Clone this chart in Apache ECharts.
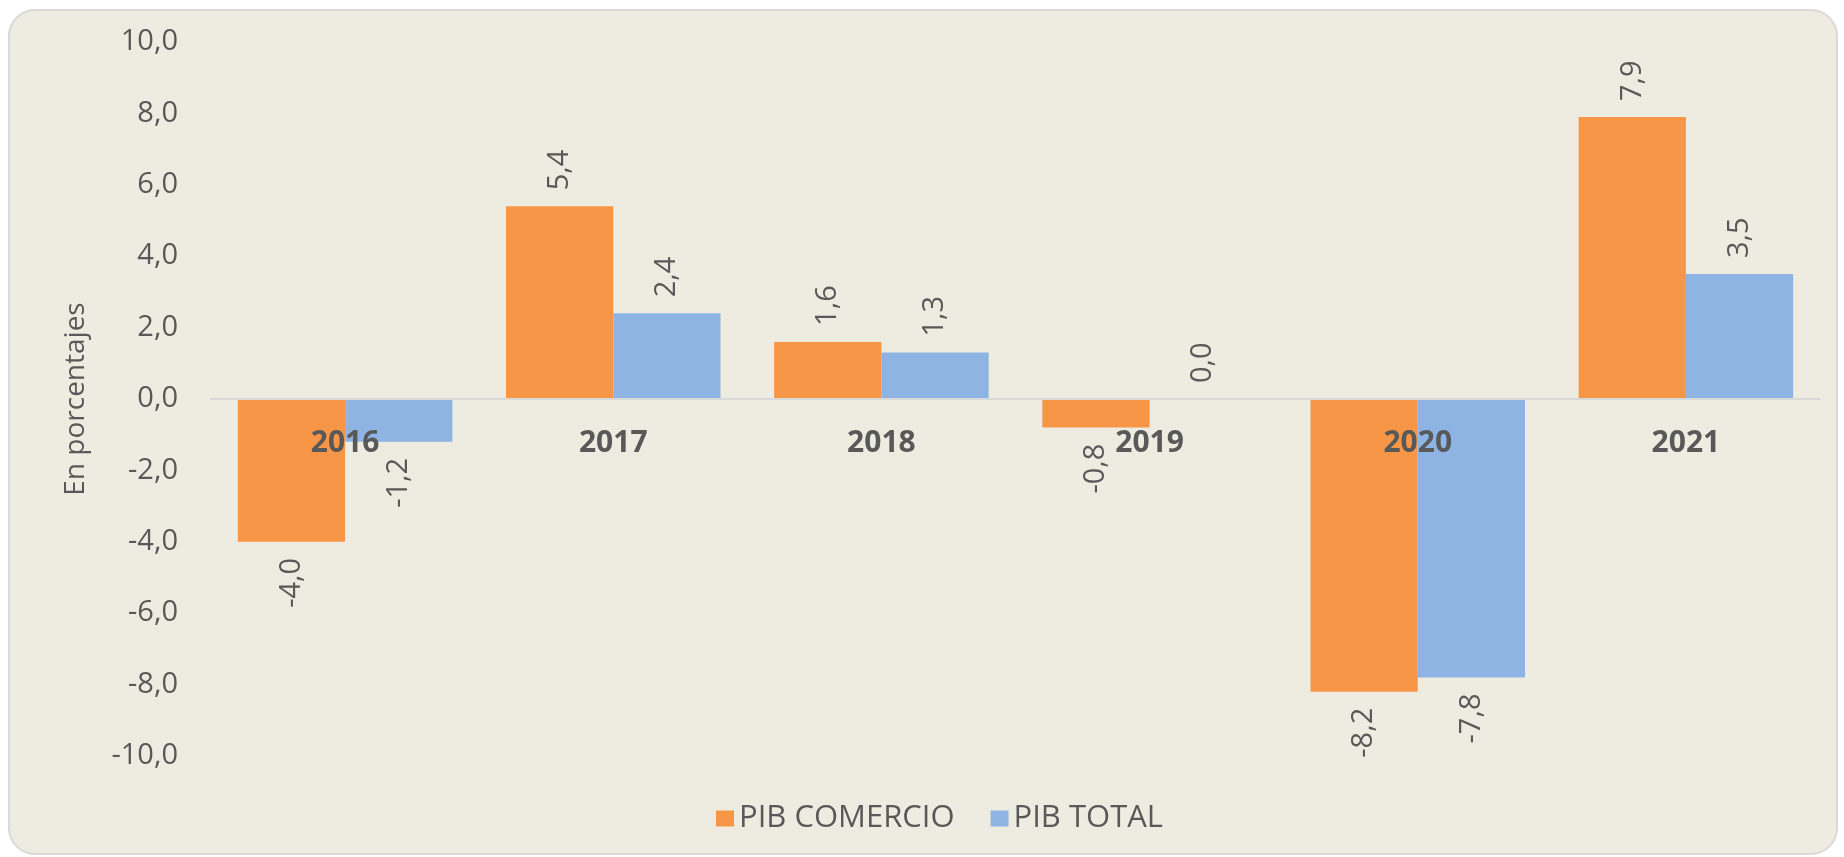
<!DOCTYPE html>
<html>
<head>
    <meta charset="UTF-8">
    <script type="text/javascript" src="https://cdn.jsdelivr.net/npm/echarts@6/dist/echarts.min.js"></script>
    <style>
        html, body { margin: 0; padding: 0; background: #ffffff; }
    </style>
</head>
<body>
    <div style="height: 857px;width: 1844px" id="myDiv"></div>
    <script type="text/javascript">
        var years = ['2016', '2017', '2018', '2019', '2020', '2021'];
        var pibComercio = [-4.0, 5.4, 1.6, -0.8, -8.2, 7.9];
        var pibTotal = [-1.2, 2.4, 1.3, 0.0, -7.8, 3.5];
        var yTicks = { min: -10, max: 10, interval: 2 };

        function fmt(v) {
            return v.toFixed(1).replace('.', ',');
        }

        // label goes above positive bars, below negative ones
        function withLabels(arr) {
            var out = [];
            for (var i = 0; i < arr.length; i++) {
                var up = arr[i] >= 0;
                out.push({
                    value: arr[i],
                    label: {
                        position: up ? 'top' : 'bottom',
                        align: up ? 'left' : 'right'
                    }
                });
            }
            return out;
        }

        var labelStyle = {
            show: true,
            rotate: 90,
            verticalAlign: 'middle',
            distance: 16,
            fontFamily: 'Open Sans',
            fontSize: 29,
            color: '#595959',
            formatter: function (p) { return fmt(p.value); }
        };

        var gridTop = 42, gridBottom = 101, chartH = 857;
        // the category axis sits on the zero line (middle of the symmetric y range)
        var zeroOffset = -(chartH - gridTop - gridBottom) * (0 - yTicks.min) / (yTicks.max - yTicks.min);

        var chart = echarts.init(document.getElementById('myDiv'));
        var option = {
            backgroundColor: '#ffffff',
            textStyle: { fontFamily: 'Open Sans', color: '#595959' },
            graphic: [{
                type: 'rect',
                left: 8,
                top: 9,
                z: -10,
                shape: { width: 1828, height: 844, r: 26 },
                style: { fill: '#EEECE1', stroke: '#D9D9D9', lineWidth: 2 }
            }],
            grid: {
                left: 211,
                right: 24,
                top: gridTop,
                bottom: gridBottom,
                outerBoundsMode: 'none'
            },
            legend: {
                left: 711,
                top: 798,
                itemWidth: 18,
                itemHeight: 16,
                itemGap: 36,
                icon: 'rect',
                textStyle: { fontSize: 31, color: '#595959', fontFamily: 'Open Sans' },
                data: ['PIB COMERCIO', 'PIB TOTAL']
            },
            xAxis: {
                type: 'category',
                data: years,
                z: 10,
                position: 'bottom',
                offset: zeroOffset,
                axisLine: { onZero: false, lineStyle: { color: '#D9D9D9', width: 2 } },
                axisTick: { show: false },
                axisLabel: {
                    margin: 29,
                    fontSize: 30,
                    fontWeight: 'bold',
                    color: '#595959',
                    fontFamily: 'Open Sans'
                }
            },
            yAxis: {
                type: 'value',
                min: yTicks.min,
                max: yTicks.max,
                interval: yTicks.interval,
                name: 'En porcentajes',
                nameLocation: 'middle',
                nameGap: 121,
                nameTextStyle: { fontSize: 28, color: '#595959', fontFamily: 'Open Sans' },
                splitLine: { show: false },
                axisLine: { show: false },
                axisTick: { show: false },
                axisLabel: {
                    margin: 33,
                    fontSize: 29,
                    color: '#595959',
                    fontFamily: 'Open Sans',
                    formatter: function (v) { return fmt(v); }
                }
            },
            series: [
                {
                    name: 'PIB COMERCIO',
                    type: 'bar',
                    barGap: '0%',
                    barCategoryGap: '20%',
                    itemStyle: { color: '#F79646' },
                    label: labelStyle,
                    data: withLabels(pibComercio)
                },
                {
                    name: 'PIB TOTAL',
                    type: 'bar',
                    barGap: '0%',
                    barCategoryGap: '20%',
                    itemStyle: { color: '#8EB4E3' },
                    label: labelStyle,
                    data: withLabels(pibTotal)
                }
            ]
        };
        chart.setOption(option);
    </script>
</body>
</html>
